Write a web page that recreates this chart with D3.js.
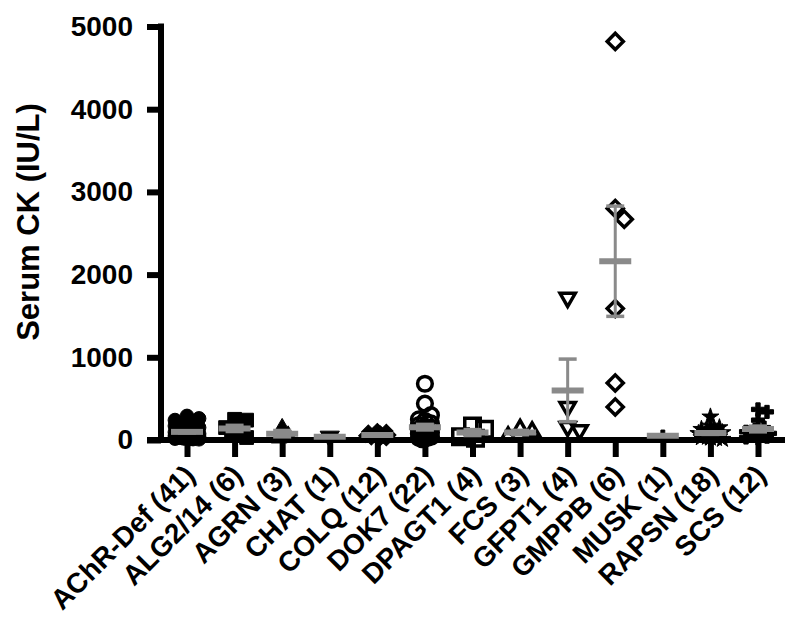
<!DOCTYPE html>
<html>
<head>
<meta charset="utf-8">
<script src="https://cdn.jsdelivr.net/npm/d3@7"></script>
<style>
  body { margin: 0; background: #fff; }
  text { font-family: "Liberation Sans", Arial, sans-serif; font-weight: bold; }
</style>
</head>
<body>
<div class="chart"></div>
<script>
// chart data
var categories = ["AChR-Def (41)", "ALG2/14 (6)", "AGRN (3)", "CHAT (1)", "COLQ (12)", "DOK7 (22)",
  "DPAGT1 (4)", "FCS (3)", "GFPT1 (4)", "GMPPB (6)", "MUSK (1)", "RAPSN (18)", "SCS (12)"];

var achrDef = [290, 260, 240, 220, 200, 190, 180, 170, 160, 150, 140, 135, 130, 120, 115, 110, 100, 95, 90, 85,
  80, 75, 70, 65, 60, 55, 50, 48, 45, 40, 38, 35, 30, 28, 25, 22, 20, 18, 15, 12, 10];
var alg214 = [250, 240, 150, 110, 60, 30];
var agrn = [150, 60, 20];
var chat = [40];
var colq = [120, 110, 100, 90, 70, 60, 50, 40, 30, 20, 15, 10];
var dok7 = [680, 440, 300, 250, 230, 200, 180, 160, 150, 130, 120, 100, 90, 80, 70, 60, 50, 40, 30, 25, 20, 10];
var dpagt1 = [170, 130, 40, 20];
var fcs = [130, 100, 40];
var gfpt1 = [1720, 400, 160, 120];
var gmppb = [4820, 2800, 2670, 1590, 690, 400];
var musk = [50];
var rapsn = [280, 170, 150, 130, 110, 100, 90, 80, 70, 60, 55, 50, 40, 35, 30, 25, 20, 10];
var scs = [370, 340, 240, 150, 120, 100, 80, 60, 50, 40, 30, 20];

var yTicks = [0, 1000, 2000, 3000, 4000, 5000];

var allValues = [achrDef, alg214, agrn, chat, colq, dok7, dpagt1, fcs, gfpt1, gmppb, musk, rapsn, scs];

// marker style for each group (Prism style sequence)
var markers = [
  { type: d3.symbolCircle, size: 150, fill: true },
  { type: d3.symbolSquare, size: 190, fill: true },
  { type: d3.symbolTriangle, size: 110, fill: true },
  { type: d3.symbolTriangle, size: 160, fill: true, rot: 180 },
  { type: d3.symbolSquare, size: 90, fill: true, rot: 45 },
  { type: d3.symbolCircle, size: 170, fill: false },
  { type: d3.symbolSquare, size: 240, fill: false },
  { type: d3.symbolTriangle, size: 100, fill: false },
  { type: d3.symbolTriangle, size: 100, fill: false, rot: 180 },
  { type: d3.symbolSquare, size: 130, fill: false, rot: 45 },
  { type: d3.symbolCross, size: 75, fill: true },
  { type: d3.symbolStar, size: 90, fill: true },
  { type: d3.symbolCross, size: 95, fill: true }
];

var svgWidth = 800;
var svgHeight = 627;

var svg = d3.select(".chart")
  .append("svg")
  .attr("width", svgWidth)
  .attr("height", svgHeight);

var xScale = d3.scalePoint()
  .domain(categories)
  .range([187, 758]);

var yScale = d3.scaleLinear()
  .domain([0, 5000])
  .range([440, 26.5]);

var axisX = 161;
var axisY = 440;

// groups table
var groups = categories.map(function(c, i) {
  var v = allValues[i];
  var m = d3.mean(v);
  var sem = v.length > 1 ? d3.deviation(v) / Math.sqrt(v.length) : 0;
  return { name: c, values: v, mean: m, sem: sem, marker: markers[i] };
});

// simple beeswarm, capped so that big groups pile up into a blob
function swarm(vals, minD, maxOff) {
  var placed = [];
  var sorted = vals.slice().sort(function(a, b) { return b - a; });
  var step = 3;
  var cands = [0];
  for (var s = step; s <= maxOff; s += step) { cands.push(s); cands.push(-s); }
  sorted.forEach(function(v) {
    var py = yScale(v);
    var best = 0, bestD = -1;
    for (var k = 0; k < cands.length; k++) {
      var off = cands[k];
      var dmin = d3.min(placed, function(p) {
        var dx = p.dx - off, dy = p.py - py;
        return Math.sqrt(dx * dx + dy * dy);
      });
      if (dmin === undefined || dmin >= minD) { best = off; bestD = Infinity; break; }
      if (dmin > bestD + 0.5) { bestD = dmin; best = off; }
    }
    placed.push({ v: v, py: py, dx: best });
  });
  return placed;
}

// points
var pts = svg.append("g");
groups.forEach(function(g) {
  var minD = (Math.sqrt(g.marker.size) * 1.1 + (g.marker.fill ? 0 : 4)) * 0.8;
  var maxOff = (!g.marker.fill && g.values.length > 15) ? 7 : 13;
  var placed = swarm(g.values, minD, maxOff);
  var sym = d3.symbol().type(g.marker.type).size(g.marker.size);
  pts.selectAll(null)
    .data(placed)
    .enter()
    .append("path")
    .attr("d", sym)
    .attr("transform", function(d) {
      return "translate(" + (xScale(g.name) + d.dx) + "," + d.py + ")" + (g.marker.rot ? " rotate(" + g.marker.rot + ")" : "");
    })
    .attr("fill", g.marker.fill ? "#000" : "none")
    .attr("stroke", "#000")
    .attr("stroke-width", g.marker.fill ? 1 : 3.5);
});

// axes
var bottomAxis = d3.axisBottom(xScale).tickSize(17).tickSizeOuter(0);
var leftAxis = d3.axisLeft(yScale).tickValues(yTicks).tickSize(14).tickPadding(14).tickFormat(d3.format("d"));

var gx = svg.append("g")
  .attr("transform", "translate(0," + axisY + ")")
  .call(bottomAxis);
gx.select(".domain").remove();
gx.selectAll(".tick line").attr("stroke", "#000").attr("stroke-width", 6);
gx.selectAll(".tick text")
  .attr("y", 0)
  .attr("dy", 0)
  .attr("transform", "translate(9,37) rotate(-45)")
  .style("text-anchor", "end")
  .style("font-size", "28px")
  .attr("fill", "#000");

var gy = svg.append("g")
  .attr("transform", "translate(" + axisX + ",0)")
  .call(leftAxis);
gy.select(".domain").remove();
gy.selectAll(".tick line").attr("stroke", "#000").attr("stroke-width", 6);
gy.selectAll(".tick text")
  .style("font-size", "28px")
  .attr("fill", "#000");

svg.append("line")
  .attr("x1", 147).attr("x2", 785)
  .attr("y1", axisY).attr("y2", axisY)
  .attr("stroke", "#000").attr("stroke-width", 6);
svg.append("line")
  .attr("x1", axisX).attr("x2", axisX)
  .attr("y1", 23.5).attr("y2", axisY)
  .attr("stroke", "#000").attr("stroke-width", 6);

// mean and SEM in grey
var stats = svg.append("g");
var grey = "#8a8a8a";
groups.forEach(function(g) {
  var cx = xScale(g.name);
  if (g.sem > 0) {
    stats.append("line")
      .attr("x1", cx).attr("x2", cx)
      .attr("y1", yScale(g.mean + g.sem)).attr("y2", yScale(g.mean - g.sem))
      .attr("stroke", grey).attr("stroke-width", 3);
    [g.mean + g.sem, g.mean - g.sem].forEach(function(v) {
      stats.append("line")
        .attr("x1", cx - 9).attr("x2", cx + 9)
        .attr("y1", yScale(v)).attr("y2", yScale(v))
        .attr("stroke", grey).attr("stroke-width", 3.5);
    });
  }
  stats.append("line")
    .attr("x1", cx - 16).attr("x2", cx + 16)
    .attr("y1", yScale(g.mean)).attr("y2", yScale(g.mean))
    .attr("stroke", grey).attr("stroke-width", 6);
});

// y axis title
svg.append("text")
  .attr("transform", "translate(39,222) rotate(-90)")
  .attr("text-anchor", "middle")
  .style("font-size", "31px")
  .text("Serum CK (IU/L)");
</script>
</body>
</html>
